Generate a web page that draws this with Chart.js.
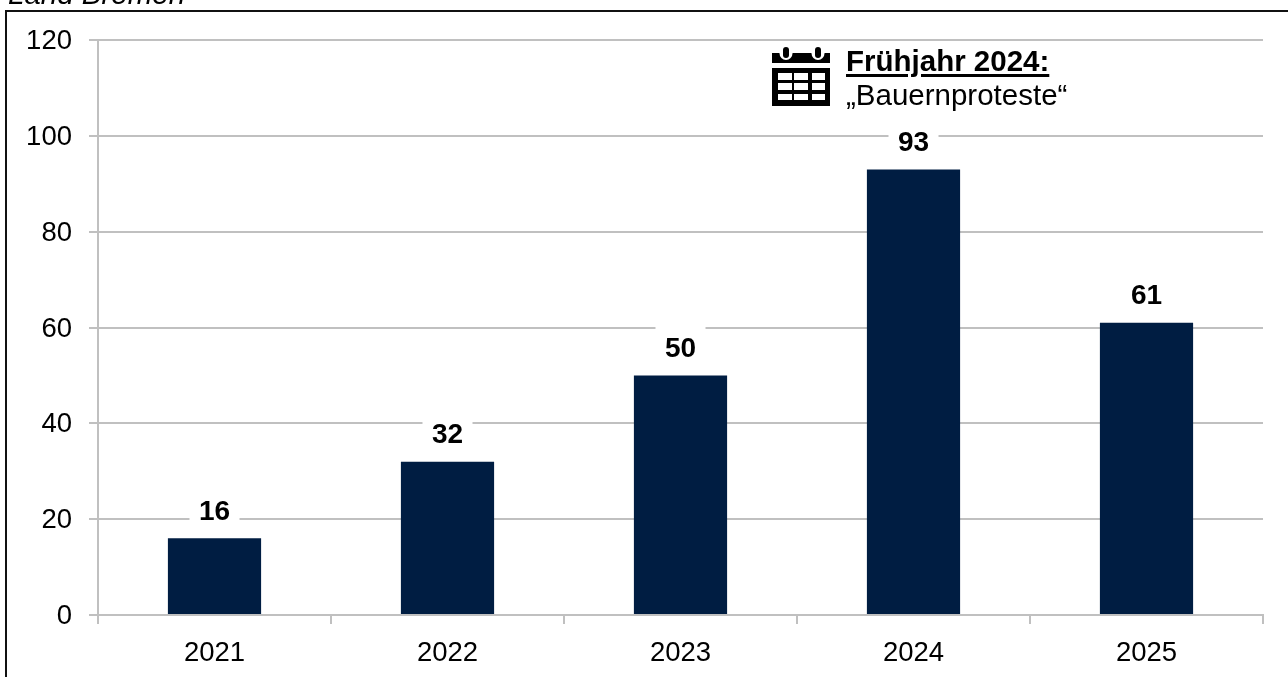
<!DOCTYPE html>
<html lang="de">
<head>
<meta charset="utf-8">
<title>Land Bremen</title>
<script src="https://cdn.jsdelivr.net/npm/chart.js@4/dist/chart.umd.min.js"></script>
<style>
    html, body { margin: 0; padding: 0; background: #fff; overflow: hidden; }
    #wrap { position: relative; width: 1288px; height: 677px; font-family: "Liberation Sans", Arial, sans-serif; color: #000; overflow: hidden; }
    #chart { position: absolute; left: 0; top: 0; }
    #frameTop { position: absolute; left: 5px; top: 10px; width: 1283px; height: 2px; background: #111; }
    #frameLeft { position: absolute; left: 5px; top: 10px; width: 2px; height: 667px; background: #111; }
    #region { position: absolute; left: 8px; top: -22px; font-size: 29.5px; font-style: italic; line-height: 31px; }
    #noteHead { position: absolute; left: 846px; top: 45px; font-size: 29.5px; font-weight: bold; line-height: 31px; text-decoration: underline; text-decoration-thickness: 3px; text-underline-offset: 3px; }
    #noteText { position: absolute; left: 846px; top: 79px; font-size: 29.5px; line-height: 31px; }
    #icon { position: absolute; left: 772px; top: 47px; }
</style>
</head>
<body>
<div id="wrap">
    <canvas id="chart" width="1288" height="677"></canvas>
    <div id="frameTop"></div>
    <div id="frameLeft"></div>
    <div id="region">Land Bremen</div>
    <svg id="icon" width="58" height="59" viewBox="0 0 58 59">
        <rect x="0" y="6" width="58" height="10" fill="#000"/>
        <rect x="7.5" y="-6" width="13" height="19" rx="6.5" fill="#fff"/>
        <rect x="39.5" y="-6" width="13" height="19" rx="6.5" fill="#fff"/>
        <rect x="11" y="0" width="6" height="11" rx="3" fill="#000"/>
        <rect x="43" y="0" width="6" height="11" rx="3" fill="#000"/>
        <path fill="#000" fill-rule="evenodd" d="M0 21h58v38h-58z M6 26v7h14v-7z M22 26v7h14v-7z M40 26v7h13v-7z M6 36v7h14v-7z M22 36v7h14v-7z M40 36v7h13v-7z M6 47v6h14v-6z M22 47v6h14v-6z M40 47v6h13v-6z"/>
    </svg>
    <div id="noteHead">Frühjahr 2024:</div>
    <div id="noteText">„Bauernproteste“</div>
</div>
<script>
const years = ['2021', '2022', '2023', '2024', '2025'];
const cases = [16, 32, 50, 93, 61];
const yTicks = [0, 20, 40, 60, 80, 100, 120];

const barColor = '#001d42';
const gridColor = '#c0c0c0';
const fontFamily = '"Liberation Sans", Arial, sans-serif';

// Zahlen ueber den Balken, weisser Kasten unterbricht die Gitterlinien
const barLabels = {
    id: 'barLabels',
    afterDatasetsDraw(chart) {
        const ctx = chart.ctx;
        const bars = chart.getDatasetMeta(0).data;
        ctx.save();
        ctx.font = 'bold 28px ' + fontFamily;
        ctx.textAlign = 'center';
        ctx.textBaseline = 'middle';
        bars.forEach(function (bar, i) {
            const y = bar.y - 26;
            ctx.fillStyle = '#fff';
            ctx.fillRect(bar.x - 25, y - 24, 50, 46);
            ctx.fillStyle = '#000';
            ctx.fillText(String(cases[i]), bar.x, y);
        });
        ctx.restore();
    }
};

new Chart(document.getElementById('chart'), {
    type: 'bar',
    data: {
        labels: years,
        datasets: [{
            data: cases,
            backgroundColor: barColor,
            barPercentage: 0.4,
            categoryPercentage: 1
        }]
    },
    options: {
        responsive: false,
        animation: false,
        layout: { padding: { top: 40, right: 25, bottom: 0, left: 0 } },
        plugins: { legend: { display: false }, tooltip: { enabled: false } },
        scales: {
            x: {
                afterFit: function (scale) { scale.height = 62; },
                border: { color: gridColor, width: 2 },
                grid: { color: gridColor, lineWidth: 2, drawOnChartArea: false, tickLength: 9 },
                ticks: { color: '#000', padding: 13, font: { family: fontFamily, size: 27.5 } }
            },
            y: {
                min: 0,
                max: 120,
                afterFit: function (scale) { scale.width = 98; },
                afterBuildTicks: function (scale) {
                    scale.ticks = yTicks.map(function (v) { return { value: v }; });
                },
                border: { color: gridColor, width: 2 },
                grid: { color: gridColor, lineWidth: 2, tickLength: 9 },
                ticks: { color: '#000', padding: 17, labelOffset: 1.5, font: { family: fontFamily, size: 27.5 } }
            }
        }
    },
    plugins: [barLabels]
});
</script>
</body>
</html>
